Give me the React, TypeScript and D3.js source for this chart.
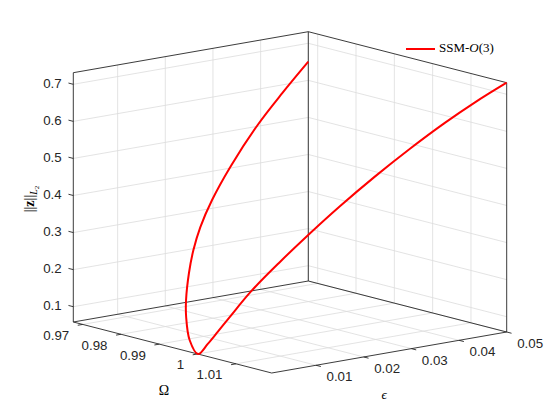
import * as d3 from "d3";

const W = 560;
const H = 420;

// axis limits (the original uses axis tight)
const OMEGA_LIM = [0.96755, 1.01932];
const EPS_LIM = [0.0007, 0.05];
const AMP_LIM = [0.0587, 0.7313];

const omegaTicks = [0.97, 0.98, 0.99, 1, 1.01];
const omegaTickLabels = ["0.97", "0.98", "0.99", "1", "1.01"];
const epsTicks = [0.01, 0.02, 0.03, 0.04, 0.05];
const epsTickLabels = ["0.01", "0.02", "0.03", "0.04", "0.05"];
const ampTicks = [0.1, 0.2, 0.3, 0.4, 0.5, 0.6, 0.7];
const ampTickLabels = ["0.1", "0.2", "0.3", "0.4", "0.5", "0.6", "0.7"];

// branch that bends to lower frequencies (from the cusp outwards)
const lowOmega = [1.0001, 0.99566, 0.99053, 0.98727, 0.98268, 0.97924, 0.97632, 0.97366, 0.97111, 0.96889, 0.96802, 0.96755];
const lowEps = [0.0007, 0.0025, 0.0059, 0.0085, 0.0128, 0.0165, 0.0203, 0.0249, 0.0309, 0.0383, 0.0442, 0.05];
const lowAmp = [0.0587, 0.0808, 0.1215, 0.1529, 0.204, 0.2485, 0.2942, 0.3497, 0.4213, 0.5095, 0.5803, 0.6504];

// branch that bends to higher frequencies
const highOmega = [1.0001, 1.0004, 1.0005, 1.0005, 1.0006, 1.0017, 1.0031, 1.0049, 1.0073, 1.01, 1.013, 1.0159, 1.0193];
const highEps = [0.0007, 0.0025, 0.0045, 0.0071, 0.0116, 0.0166, 0.0214, 0.0266, 0.032, 0.0372, 0.0421, 0.0461, 0.05];
const highAmp = [0.0587, 0.0829, 0.1109, 0.1465, 0.2072, 0.2759, 0.3415, 0.4121, 0.4863, 0.5571, 0.6238, 0.678, 0.7313];

// screen position of the (min,min,min) corner and the edge vectors of the box
const ORIGIN = [73.3, 322];
const AX_OMEGA = [198.4, 51];
const AX_EPS = [235, -41];
const AX_AMP = [0, -249.3];

const EDGE = "#262626";
const GRID = "#dcdcdc";
const SANS = "'Liberation Sans', Arial, Helvetica, sans-serif";
const SERIF = "'Liberation Serif', 'Times New Roman', serif";

const sO = d3.scaleLinear().domain(OMEGA_LIM).range([0, 1]);
const sE = d3.scaleLinear().domain(EPS_LIM).range([0, 1]);
const sA = d3.scaleLinear().domain(AMP_LIM).range([0, 1]);

function project(o: number, e: number, a: number): [number, number] {
  const u = sO(o), v = sE(e), w = sA(a);
  return [
    ORIGIN[0] + u * AX_OMEGA[0] + v * AX_EPS[0] + w * AX_AMP[0],
    ORIGIN[1] + u * AX_OMEGA[1] + v * AX_EPS[1] + w * AX_AMP[1],
  ];
}

function seg(p: [number, number], q: [number, number], key: string, stroke: string, sw: number) {
  return <line key={key} x1={p[0]} y1={p[1]} x2={q[0]} y2={q[1]} stroke={stroke} strokeWidth={sw} />;
}

const unit = (v: number[]) => {
  const l = Math.hypot(v[0], v[1]);
  return [v[0] / l, v[1] / l];
};

export default function App() {
  const [o0, o1] = OMEGA_LIM;
  const [e0, e1] = EPS_LIM;
  const [a0, a1] = AMP_LIM;

  const grid: JSX.Element[] = [];
  // floor
  omegaTicks.forEach((o, i) => grid.push(seg(project(o, e0, a0), project(o, e1, a0), "fo" + i, GRID, 0.8)));
  epsTicks.forEach((e, i) => grid.push(seg(project(o0, e, a0), project(o1, e, a0), "fe" + i, GRID, 0.8)));
  // wall at Omega min
  epsTicks.forEach((e, i) => grid.push(seg(project(o0, e, a0), project(o0, e, a1), "le" + i, GRID, 0.8)));
  ampTicks.forEach((a, i) => grid.push(seg(project(o0, e0, a), project(o0, e1, a), "la" + i, GRID, 0.8)));
  // wall at eps max
  omegaTicks.forEach((o, i) => grid.push(seg(project(o, e1, a0), project(o, e1, a1), "ro" + i, GRID, 0.8)));
  ampTicks.forEach((a, i) => grid.push(seg(project(o0, e1, a), project(o1, e1, a), "ra" + i, GRID, 0.8)));

  const edges = [
    seg(project(o0, e0, a0), project(o1, e0, a0), "b1", EDGE, 0.9),
    seg(project(o1, e0, a0), project(o1, e1, a0), "b2", EDGE, 0.9),
    seg(project(o1, e1, a0), project(o0, e1, a0), "b3", EDGE, 0.9),
    seg(project(o0, e1, a0), project(o0, e0, a0), "b4", EDGE, 0.9),
    seg(project(o0, e0, a0), project(o0, e0, a1), "v1", EDGE, 0.9),
    seg(project(o0, e1, a0), project(o0, e1, a1), "v2", EDGE, 0.9),
    seg(project(o1, e1, a0), project(o1, e1, a1), "v3", EDGE, 0.9),
    seg(project(o0, e0, a1), project(o0, e1, a1), "t1", EDGE, 0.9),
    seg(project(o0, e1, a1), project(o1, e1, a1), "t2", EDGE, 0.9),
  ];

  const TL = 5;
  const dO = unit([-AX_EPS[0], -AX_EPS[1]]);
  const dE = unit(AX_OMEGA);
  const dA = unit([-AX_OMEGA[0], -AX_OMEGA[1]]);

  // one continuous curve: low branch reversed, then the high branch
  const pts: [number, number][] = [];
  for (let i = lowOmega.length - 1; i >= 0; i--) pts.push(project(lowOmega[i], lowEps[i], lowAmp[i]));
  for (let i = 1; i < highOmega.length; i++) pts.push(project(highOmega[i], highEps[i], highAmp[i]));
  const path = d3.line().curve(d3.curveCatmullRom.alpha(0.5))(pts) || "";

  return (
    <svg width={W} height={H} style={{ position: "absolute", left: 0, top: 0, background: "#fff" }}>
      <rect width={W} height={H} fill="#fff" />
      <g>{grid}</g>
      <g>{edges}</g>

      {omegaTicks.map((o, i) => {
        const [x, y] = project(o, e0, a0);
        return (
          <g key={"ot" + i}>
            <line x1={x} y1={y} x2={x + dO[0] * TL} y2={y + dO[1] * TL} stroke={EDGE} strokeWidth={0.9} />
            <text x={x - 13.5} y={y + 12} textAnchor="end" dominantBaseline="middle" fontFamily={SANS} fontSize={13.3} fill="#262626">
              {omegaTickLabels[i]}
            </text>
          </g>
        );
      })}
      {epsTicks.map((e, i) => {
        const [x, y] = project(o1, e, a0);
        return (
          <g key={"et" + i}>
            <line x1={x} y1={y} x2={x + dE[0] * TL} y2={y + dE[1] * TL} stroke={EDGE} strokeWidth={0.9} />
            <text x={x + 10.5} y={y + 12.5} textAnchor="start" dominantBaseline="middle" fontFamily={SANS} fontSize={13.3} fill="#262626">
              {epsTickLabels[i]}
            </text>
          </g>
        );
      })}
      {ampTicks.map((a, i) => {
        const [x, y] = project(o0, e0, a);
        return (
          <g key={"at" + i}>
            <line x1={x} y1={y} x2={x + dA[0] * TL} y2={y + dA[1] * TL} stroke={EDGE} strokeWidth={0.9} />
            <text x={61.7} y={y} textAnchor="end" dominantBaseline="middle" fontFamily={SANS} fontSize={13.3} fill="#262626">
              {ampTickLabels[i]}
            </text>
          </g>
        );
      })}

      <text x={164} y={392} textAnchor="middle" dominantBaseline="middle" fontFamily={SERIF} fontSize={14} fill="#000">
        Ω
      </text>
      <text x={384} y={396} textAnchor="middle" dominantBaseline="middle" fontFamily={SERIF} fontSize={13} fontStyle="italic" fill="#000">
        ϵ
      </text>
      <text transform="translate(34,199) rotate(-90)" textAnchor="middle" fontFamily={SERIF} fontSize={14} fill="#000">
        ||<tspan fontWeight="bold">z</tspan>||
        <tspan fontStyle="italic" fontSize={10} dy={3}>L</tspan>
        <tspan fontSize={7} dy={1.5}>2</tspan>
      </text>

      <path d={path} fill="none" stroke="#ff0000" strokeWidth={2} strokeLinejoin="round" />

      <line x1={406} y1={49} x2={435} y2={49} stroke="#ff0000" strokeWidth={2} />
      <text x={439} y={49} dominantBaseline="middle" fontFamily={SERIF} fontSize={13} fill="#000">
        SSM-<tspan fontStyle="italic">O</tspan>(3)
      </text>
    </svg>
  );
}
